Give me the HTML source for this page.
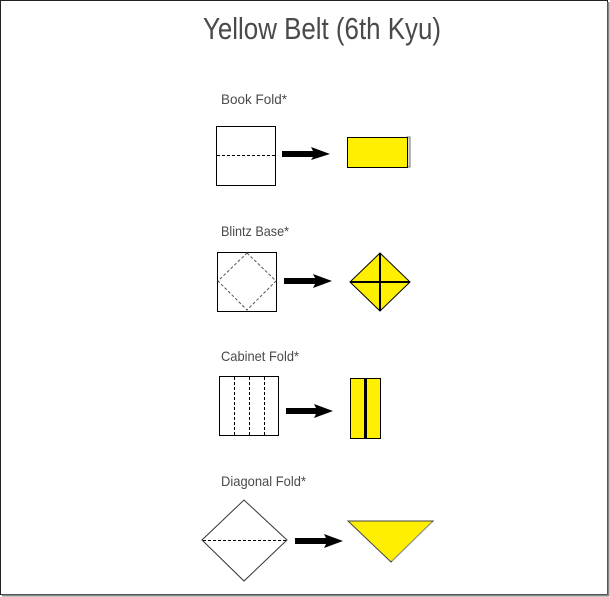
<!DOCTYPE html>
<html><head><meta charset="utf-8"><style>
html,body{margin:0;padding:0;background:#fff;width:610px;height:597px;overflow:hidden}
svg{display:block}
text{font-family:"Liberation Sans",sans-serif;fill:#4a4a4a}
</style></head><body>
<svg width="610" height="597" viewBox="0 0 610 597" xmlns="http://www.w3.org/2000/svg">
<rect x="0.5" y="0.5" width="607" height="594" fill="#fff" stroke="#222" stroke-width="1"/>
<line x1="608.5" y1="2" x2="608.5" y2="596" stroke="#888" stroke-width="2"/>
<line x1="2" y1="595.5" x2="609" y2="595.5" stroke="#888" stroke-width="2"/>
<text x="322" y="39" font-size="31" text-anchor="middle" textLength="238" lengthAdjust="spacingAndGlyphs">Yellow Belt (6th Kyu)</text>
<g font-size="14">
<text x="221" y="104" textLength="66" lengthAdjust="spacingAndGlyphs">Book Fold*</text>
<text x="221" y="236" textLength="68" lengthAdjust="spacingAndGlyphs">Blintz Base*</text>
<text x="221" y="361" textLength="78" lengthAdjust="spacingAndGlyphs">Cabinet Fold*</text>
<text x="221" y="486" textLength="85" lengthAdjust="spacingAndGlyphs">Diagonal Fold*</text>
</g>
<g stroke="#000" stroke-width="1" fill="none">
<!-- book -->
<rect x="216.5" y="126.5" width="59" height="59"/>
<line x1="217" y1="155.5" x2="275" y2="155.5" stroke-dasharray="3,2"/>
<!-- blintz -->
<rect x="217.5" y="252.5" width="59" height="59"/>
<polygon points="247,253 276,281 247,310 218,281" stroke="#555" stroke-dasharray="3,2"/>
<!-- cabinet -->
<rect x="219.5" y="376.5" width="59" height="59"/>
<line x1="234.5" y1="377" x2="234.5" y2="435" stroke-dasharray="3,2"/>
<line x1="249.5" y1="377" x2="249.5" y2="435" stroke-dasharray="3,2"/>
<line x1="264.5" y1="377" x2="264.5" y2="435" stroke-dasharray="3,2"/>
<!-- diagonal -->
<polygon points="202,540 244,500 287,540 244,581" stroke="#333"/>
<line x1="203" y1="540.5" x2="286" y2="540.5" stroke-dasharray="3,2"/>
</g>
<!-- arrows -->
<g fill="#000">
<path d="M282,151 L313,151 L311,147 L330,154 L311,160 L313,157 L282,157 Z"/>
<path d="M284,278 L315,278 L313,274 L332,281 L313,288 L315,284 L284,284 Z"/>
<path d="M286,408 L316,408 L314,404 L333,411 L314,418 L316,414 L286,414 Z"/>
<path d="M295,538 L326,538 L324,534 L343,541 L324,548 L326,544 L295,544 Z"/>
</g>
<!-- yellow results -->
<polygon points="407,137 410,137 410,167 407,167" fill="#ddd" stroke="#777"/>
<rect x="347.5" y="137.5" width="60" height="30" fill="#ffef00" stroke="#000"/>
<polygon points="380,253 410,282 380,311 350,282" fill="#ffef00" stroke="#000"/>
<line x1="380" y1="253" x2="380" y2="311" stroke="#000" stroke-width="2"/>
<line x1="350" y1="282" x2="410" y2="282" stroke="#000" stroke-width="2"/>
<rect x="350.5" y="378.5" width="30" height="60" fill="#ffef00" stroke="#000"/>
<line x1="365.5" y1="378" x2="365.5" y2="439" stroke="#000" stroke-width="3"/>
<polygon points="348,521 433,521 391,562" fill="#ffef00" stroke="#444"/>
<line x1="392" y1="561" x2="432" y2="522" stroke="#999" stroke-width="1"/>
</svg>
</body></html>
